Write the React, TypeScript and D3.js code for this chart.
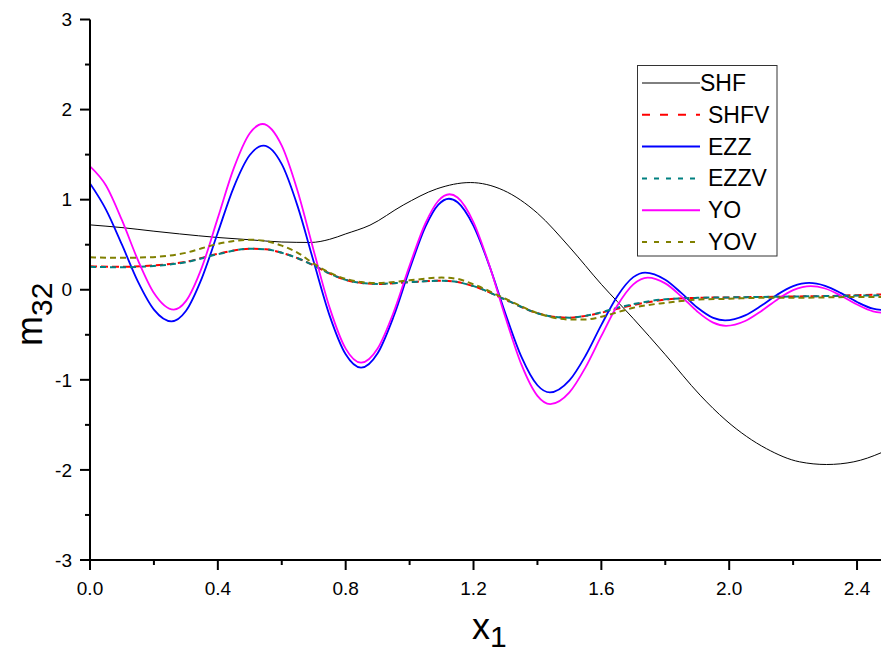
import React from "react";
import * as d3 from "d3";

type Pt = [number, number];

const SHF: Pt[] = [[0,0.72],[0.1,0.69],[0.2,0.65],[0.28,0.62],[0.4,0.58],[0.5,0.555],[0.6,0.53],[0.69,0.525],[0.75,0.56],[0.8,0.62],[0.876,0.717],[0.98,0.94],[1.085,1.12],[1.19,1.19],[1.293,1.105],[1.4,0.85],[1.5,0.475],[1.6,0.06],[1.7,-0.32],[1.8,-0.72],[1.909,-1.17],[1.99,-1.45],[2.117,-1.765],[2.22,-1.91],[2.305,-1.94],[2.39,-1.91],[2.475,-1.81],[2.5,-1.77]];

const SHFV: Pt[] = [[0,0.26],[0.1,0.255],[0.2,0.27],[0.3,0.31],[0.4,0.4],[0.5,0.455],[0.55,0.45],[0.6,0.41],[0.65,0.35],[0.7,0.27],[0.75,0.18],[0.8,0.11],[0.85,0.075],[0.9,0.065],[1.0,0.085],[1.1,0.1],[1.15,0.085],[1.2,0.04],[1.3,-0.11],[1.4,-0.26],[1.45,-0.3],[1.5,-0.31],[1.55,-0.29],[1.6,-0.255],[1.65,-0.21],[1.7,-0.17],[1.8,-0.11],[1.9,-0.09],[2.0,-0.085],[2.1,-0.08],[2.2,-0.075],[2.3,-0.07],[2.4,-0.06],[2.5,-0.05]];

const EZZ: Pt[] = [[0,1.18],[0.05,0.89],[0.1,0.5],[0.15,0.09],[0.2,-0.22],[0.255,-0.35],[0.3,-0.235],[0.35,0.13],[0.4,0.635],[0.45,1.14],[0.5,1.495],[0.543,1.6],[0.6,1.394],[0.65,0.923],[0.7,0.31],[0.75,-0.29],[0.8,-0.717],[0.848,-0.865],[0.9,-0.705],[0.95,-0.297],[1.0,0.227],[1.05,0.703],[1.09,0.944],[1.123,1.01],[1.15,0.971],[1.2,0.709],[1.25,0.262],[1.3,-0.266],[1.35,-0.745],[1.4,-1.06],[1.439,-1.14],[1.5,-1.007],[1.55,-0.735],[1.6,-0.39],[1.65,-0.071],[1.7,0.14],[1.737,0.19],[1.8,0.111],[1.85,-0.035],[1.9,-0.197],[1.95,-0.312],[1.987,-0.34],[2.05,-0.284],[2.1,-0.178],[2.15,-0.055],[2.2,0.04],[2.25,0.076],[2.3,0.044],[2.35,-0.037],[2.4,-0.136],[2.45,-0.21],[2.5,-0.23]];

const EZZV: Pt[] = [[0,0.255],[0.1,0.25],[0.2,0.265],[0.3,0.305],[0.4,0.395],[0.5,0.455],[0.55,0.45],[0.6,0.41],[0.65,0.35],[0.7,0.27],[0.75,0.18],[0.8,0.11],[0.85,0.075],[0.9,0.065],[1.0,0.085],[1.1,0.1],[1.15,0.085],[1.2,0.04],[1.3,-0.11],[1.4,-0.26],[1.45,-0.3],[1.5,-0.31],[1.55,-0.29],[1.6,-0.25],[1.65,-0.2],[1.7,-0.16],[1.8,-0.105],[1.9,-0.09],[2.0,-0.085],[2.1,-0.08],[2.2,-0.075],[2.3,-0.07],[2.4,-0.065],[2.5,-0.06]];

const YO: Pt[] = [[0,1.37],[0.05,1.157],[0.1,0.772],[0.15,0.329],[0.2,-0.036],[0.262,-0.22],[0.3,-0.126],[0.35,0.249],[0.4,0.798],[0.45,1.35],[0.5,1.737],[0.54,1.84],[0.6,1.599],[0.65,1.09],[0.7,0.434],[0.75,-0.201],[0.8,-0.654],[0.848,-0.81],[0.9,-0.652],[0.95,-0.251],[1.0,0.268],[1.05,0.741],[1.09,0.988],[1.125,1.06],[1.15,1.024],[1.2,0.749],[1.25,0.267],[1.3,-0.308],[1.35,-0.832],[1.4,-1.178],[1.44,-1.27],[1.5,-1.14],[1.55,-0.865],[1.6,-0.513],[1.65,-0.175],[1.7,0.06],[1.745,0.135],[1.8,0.071],[1.85,-0.073],[1.9,-0.241],[1.95,-0.365],[1.99,-0.4],[2.05,-0.347],[2.1,-0.238],[2.15,-0.11],[2.2,-0.005],[2.255,0.04],[2.3,0.014],[2.35,-0.066],[2.4,-0.164],[2.45,-0.239],[2.5,-0.26]];

const YOV: Pt[] = [[0,0.36],[0.1,0.355],[0.18,0.36],[0.25,0.38],[0.3,0.41],[0.35,0.46],[0.4,0.51],[0.45,0.54],[0.5,0.555],[0.55,0.54],[0.6,0.49],[0.65,0.41],[0.7,0.29],[0.75,0.19],[0.8,0.12],[0.85,0.085],[0.9,0.075],[1.0,0.105],[1.1,0.135],[1.15,0.12],[1.2,0.06],[1.3,-0.1],[1.4,-0.26],[1.5,-0.33],[1.55,-0.33],[1.6,-0.3],[1.65,-0.25],[1.7,-0.2],[1.8,-0.145],[1.9,-0.11],[2.0,-0.1],[2.1,-0.09],[2.2,-0.09],[2.3,-0.085],[2.4,-0.08],[2.5,-0.08]];

const SERIES_NAMES = ["SHF", "SHFV", "EZZ", "EZZV", "YO", "YOV"];
const SERIES_DATA = [SHF, SHFV, EZZ, EZZV, YO, YOV];

const X_MAJOR = [0, 0.4, 0.8, 1.2, 1.6, 2.0, 2.4];
const X_MINOR = [0.2, 0.6, 1.0, 1.4, 1.8, 2.2];
const Y_MAJOR = [-3, -2, -1, 0, 1, 2, 3];
const Y_MINOR = [-2.5, -1.5, -0.5, 0.5, 1.5, 2.5];

const STYLES = [
  { color: "#000000", width: 1, dash: "", legendDash: "" },
  { color: "#ff0000", width: 2, dash: "7,4", legendDash: "8,10" },
  { color: "#0000ff", width: 1.8, dash: "", legendDash: "" },
  { color: "#008080", width: 2, dash: "6,4", legendDash: "5,7" },
  { color: "#ff00ff", width: 1.8, dash: "", legendDash: "" },
  { color: "#808000", width: 2, dash: "6,4", legendDash: "5,7" },
];

const FONT = "'Liberation Sans', Arial, sans-serif";

export default function App() {
  const W = 881, H = 656;
  const x = d3.scaleLinear().domain([0, 2.5]).range([90, 889]);
  const y = d3.scaleLinear().domain([-3, 3]).range([560, 19.5]);
  const line = d3
    .line<Pt>()
    .x((d) => x(d[0]))
    .y((d) => y(d[1]))
    .curve(d3.curveMonotoneX);

  const x0 = x(0);
  const yb = y(-3);

  const legendTop = 83;
  const legendStep = 31.8;

  return (
    <svg
      width={W}
      height={H}
      style={{ position: "absolute", left: 0, top: 0, background: "#fff" }}
      fontFamily={FONT}
    >
      <rect x={0} y={0} width={W} height={H} fill="#fff" />
      <defs>
        <clipPath id="plotclip">
          <rect x={x0} y={y(3)} width={W - x0} height={yb - y(3)} />
        </clipPath>
      </defs>
      <g clipPath="url(#plotclip)">
        {SERIES_DATA.map((s, i) => (
          <path
            key={SERIES_NAMES[i]}
            d={line(s) || ""}
            fill="none"
            stroke={STYLES[i].color}
            strokeWidth={STYLES[i].width}
            strokeDasharray={STYLES[i].dash || undefined}
          />
        ))}
      </g>

      {/* axes */}
      <line x1={x0} x2={W} y1={yb} y2={yb} stroke="#000" strokeWidth={2} />
      <line x1={x0} x2={x0} y1={y(3)} y2={yb + 1} stroke="#000" strokeWidth={2} />
      {X_MAJOR.map((t) => (
        <g key={"xm" + t}>
          <line x1={x(t)} x2={x(t)} y1={yb} y2={yb + 10} stroke="#000" strokeWidth={2} />
          <text x={x(t)} y={595} fontSize={19} textAnchor="middle" fill="#000">
            {t.toFixed(1)}
          </text>
        </g>
      ))}
      {X_MINOR.map((t) => (
        <line key={"xn" + t} x1={x(t)} x2={x(t)} y1={yb} y2={yb + 5} stroke="#000" strokeWidth={2} />
      ))}
      {Y_MAJOR.map((t) => (
        <g key={"ym" + t}>
          <line x1={x0 - 10} x2={x0} y1={y(t)} y2={y(t)} stroke="#000" strokeWidth={2} />
          <text x={72} y={y(t) + 6.7} fontSize={19} textAnchor="end" fill="#000">
            {String(t)}
          </text>
        </g>
      ))}
      {Y_MINOR.map((t) => (
        <line key={"yn" + t} x1={x0 - 5} x2={x0} y1={y(t)} y2={y(t)} stroke="#000" strokeWidth={2} />
      ))}

      {/* axis titles */}
      <text x={472} y={639} fontSize={36} fill="#000">
        x<tspan dy={8} fontSize={30}>1</tspan>
      </text>
      <text transform="translate(42,346) rotate(-90)" fontSize={36} fill="#000">
        m<tspan dy={10} fontSize={30}>32</tspan>
      </text>

      {/* legend */}
      <rect x={637.5} y={65.5} width={139.5} height={190.5} fill="#fff" stroke="#333" strokeWidth={1} />
      {SERIES_NAMES.map((n, i) => {
        const ly = legendTop + i * legendStep;
        return (
          <g key={"lg" + n}>
            <line
              x1={642}
              x2={700}
              y1={ly}
              y2={ly}
              stroke={STYLES[i].color}
              strokeWidth={i === 0 ? 1 : 2}
              strokeDasharray={STYLES[i].legendDash || undefined}
            />
            <text x={i === 0 ? 700 : 708} y={ly + 8} fontSize={23} fill="#000">
              {n}
            </text>
          </g>
        );
      })}
    </svg>
  );
}
